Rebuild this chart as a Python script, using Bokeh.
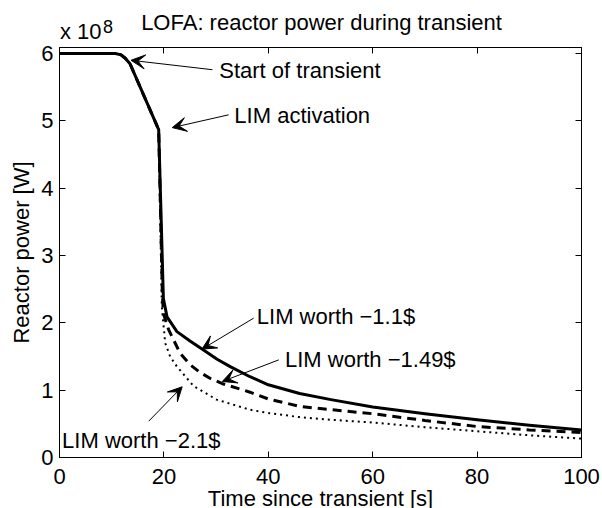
from bokeh.plotting import figure
from bokeh.layouts import column
from bokeh.models import Range1d, LinearAxis, FixedTicker, Label, Arrow, VeeHead, Title
from bokeh.embed import file_html
from bokeh.resources import INLINE

FONT = "Liberation Sans"

# ---- data (reactor power in units of 1e8 W, time in s) ----
t_lim_11 = [0, 10.7, 11.8, 12.6, 13.5, 19.0, 19.9, 20.6, 22.5, 25.0, 27.3, 30.2, 32.7,
            36.5, 40.0, 46.0, 52.0, 60.0, 70.0, 80.0, 90.0, 100.0]
p_lim_11 = [6.0, 6.0, 5.98, 5.93, 5.85, 4.87, 2.36, 2.09, 1.87, 1.73, 1.61, 1.46, 1.35,
            1.20, 1.08, 0.95, 0.86, 0.75, 0.65, 0.56, 0.48, 0.41]

t_lim_149 = [0, 10.7, 11.8, 12.6, 13.5, 19.0, 19.7, 19.9, 20.9, 23.1, 25.0, 27.0, 29.0,
             31.1, 36.5, 40.0, 46.0, 52.0, 60.0, 70.0, 80.0, 90.0, 100.0]
p_lim_149 = [6.0, 6.0, 5.98, 5.93, 5.85, 4.87, 2.45, 2.14, 1.90, 1.55, 1.38, 1.26, 1.17,
             1.10, 0.97, 0.87, 0.76, 0.71, 0.65, 0.55, 0.46, 0.41, 0.37]

t_lim_21 = [0, 10.7, 11.8, 12.6, 13.5, 19.0, 19.6, 20.25, 21.2, 22.5, 25.7, 30.1, 36.5,
            40.0, 46.0, 52.0, 60.0, 70.0, 80.0, 90.0, 100.0]
p_lim_21 = [6.0, 6.0, 5.98, 5.93, 5.85, 4.87, 2.24, 1.70, 1.50, 1.35, 1.06, 0.86, 0.71,
            0.66, 0.60, 0.56, 0.52, 0.45, 0.39, 0.33, 0.28]

x_ticks = [0, 20, 40, 60, 80, 100]
y_ticks = [0, 1, 2, 3, 4, 5, 6]

# ---- annotations (data coordinates) ----
ann_text = ["Start of transient", "LIM activation", "LIM worth \u22121.1$",
            "LIM worth \u22121.49$", "LIM worth \u22122.1$"]
ann_x = [30.6, 33.5, 37.8, 43.2, 0.5]
ann_y = [5.75, 5.08, 2.09, 1.46, 0.255]
arrow_x0 = [29.3, 32.4, 37.2, 42.0, 17.1]
arrow_y0 = [5.76, 5.09, 2.07, 1.45, 0.54]
arrow_x1 = [13.7, 21.6, 27.3, 31.2, 23.5]
arrow_y1 = [5.90, 4.90, 1.61, 1.13, 1.05]

title_text = "LOFA: reactor power during transient"
scale_text = "x 10"
scale_exp = "8"
x_label = "Time since transient [s]"
y_label = "Reactor power [W]"


def strip(h):
    f = figure(width=602, height=h, output_backend="svg", toolbar_location=None,
               title=None, x_axis_location=None, y_axis_location=None,
               x_range=Range1d(0, 1), y_range=Range1d(0, 1), min_border=0)
    f.grid.visible = False
    f.outline_line_color = None
    f.background_fill_color = "white"
    f.border_fill_color = "white"
    return f


def slabel(f, text, x, y, size="22px", align="left"):
    f.add_layout(Label(x=x, y=y, x_units="screen", y_units="screen", text=text,
                       text_font=FONT, text_font_size=size, text_align=align,
                       text_baseline="middle", text_color="black"))


# top strip: title and scale factor (frame aligned with the main plot frame)
top = strip(39)
slabel(top, title_text, 262, 17.4, align="center")
slabel(top, scale_text, 0.5, 7.6)
slabel(top, scale_exp, 43.5, 12.6, size="18px")

# main plot
p = figure(width=602, height=469, output_backend="svg", toolbar_location=None,
           title=None, x_range=Range1d(0, 100), y_range=Range1d(0, 6.09),
           x_axis_location=None, y_axis_location=None,
           min_border_left=59, min_border_right=21, min_border_top=8,
           min_border_bottom=50)
p.grid.visible = False
p.outline_line_color = "black"
p.background_fill_color = "white"
p.border_fill_color = "white"


def make_axis(ticks, labels, standoff=6):
    ax = LinearAxis(ticker=FixedTicker(ticks=ticks))
    ax.major_tick_in = 6
    ax.major_tick_out = 0
    ax.minor_tick_line_color = None
    ax.axis_line_color = "black"
    ax.major_tick_line_color = "black"
    ax.major_label_text_font = FONT
    ax.major_label_text_color = "black"
    if labels:
        ax.major_label_text_font_size = "22px"
        ax.major_label_standoff = standoff
    else:
        ax.major_label_text_font_size = "0px"
        ax.major_label_standoff = 0
    return ax


xax = make_axis(x_ticks, True, standoff=11)
yax = make_axis(y_ticks, True, standoff=6)
yax.axis_label = y_label
yax.axis_label_text_font = FONT
yax.axis_label_text_font_size = "22px"
yax.axis_label_text_font_style = "normal"
yax.axis_label_text_color = "black"
yax.axis_label_standoff = 4
p.add_layout(xax, "below")
p.add_layout(yax, "left")
p.add_layout(make_axis(x_ticks, False), "above")
p.add_layout(make_axis(y_ticks, False), "right")

# x axis title; cut at the window edge, as in the reference
p.add_layout(Title(text=x_label, align="center", vertical_align="bottom",
                   standoff=-5, text_font=FONT, text_font_size="22px",
                   text_font_style="normal", text_color="black"), "below")

p.line(t_lim_21, p_lim_21, line_color="black", line_width=2, line_dash="2 4")
p.line(t_lim_149, p_lim_149, line_color="black", line_width=3, line_dash="9 6")
p.line(t_lim_11, p_lim_11, line_color="black", line_width=3, line_join="round")

for txt, x, y in zip(ann_text, ann_x, ann_y):
    p.add_layout(Label(x=x, y=y, text=txt, text_font=FONT, text_font_size="22px",
                       text_align="left", text_baseline="middle", text_color="black"))

for x0, y0, x1, y1 in zip(arrow_x0, arrow_y0, arrow_x1, arrow_y1):
    p.add_layout(Arrow(x_start=x0, y_start=y0, x_end=x1, y_end=y1, line_width=1,
                       line_color="black",
                       end=VeeHead(size=14, fill_color="black", line_color="black",
                                   line_width=1)))

layout = column(top, p, spacing=0)
open("out.html", "w").write(file_html(layout, INLINE))
